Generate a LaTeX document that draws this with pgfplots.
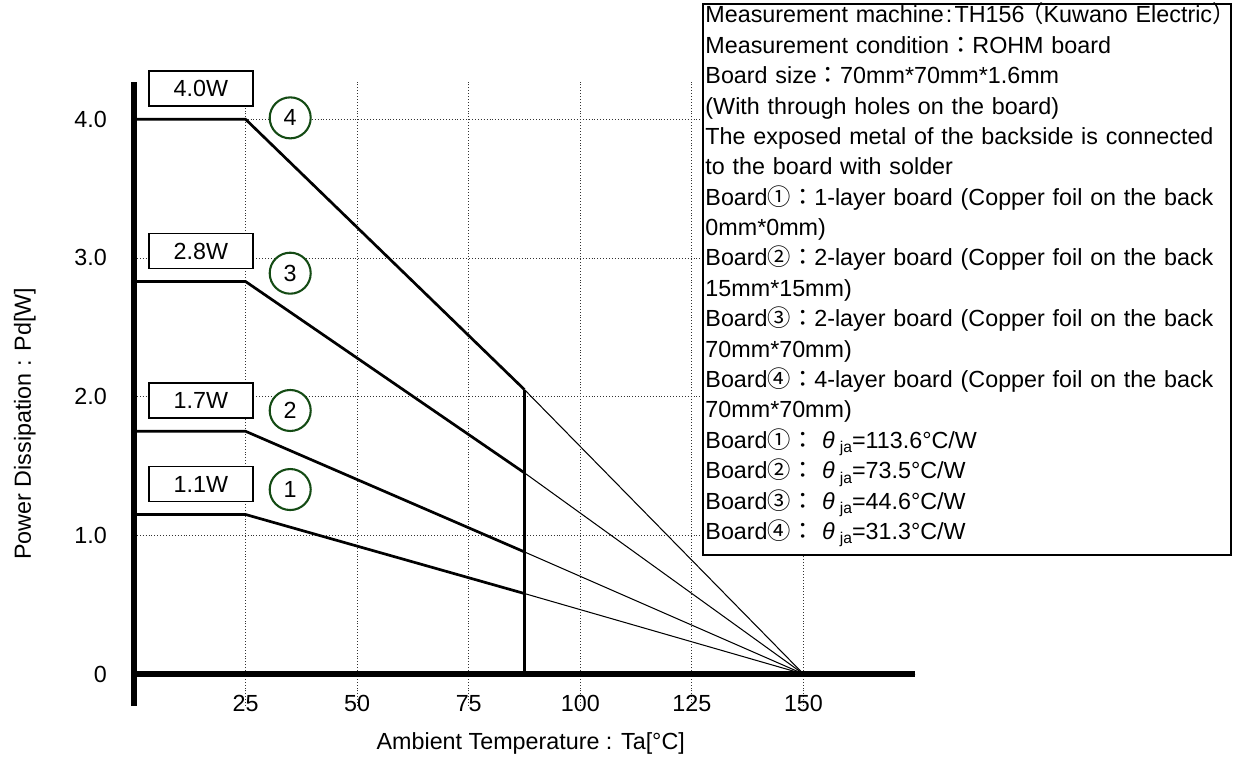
\documentclass[border=0pt]{standalone}
\usepackage{fontspec}
\setmainfont{Liberation Sans}
\newfontfamily\cjk{Noto Sans CJK JP}
\usepackage{pgfplots}
\pgfplotsset{compat=1.18}

\definecolor{circgreen}{RGB}{20,75,20}
\newcommand\fs{\fontsize{11.2pt}{13.4pt}\selectfont}
\newcommand\thja{\textit{θ}\kern2.5pt\raisebox{-0.35ex}{\fontsize{7.5pt}{8pt}\selectfont ja}}

\begin{document}
\begin{tikzpicture}
\useasboundingbox (0,0) rectangle (600pt,363.6pt);
\begin{axis}[
    at={(64.37pt,24.5pt)}, anchor=south west,
    scale only axis, width=375.2pt, height=299.8pt,
    xmin=0, xmax=175, ymin=-0.23, ymax=4.27,
    axis line style={draw=none},
    major tick length=0pt,
    xtick={25,50,75,100,125,150},
    ytick={0,1,2,3,4},
    yticklabels={0,1.0,2.0,3.0,4.0},
    /pgf/number format/assume math mode=true,
    tick label style={font=\fs},
    xticklabel style={yshift=8.5pt},
    yticklabel style={xshift=-9.5pt},
    grid=major,
    grid style={densely dotted, black!80, line width=0.4pt},
    xlabel={Ambient Temperature : Ta[°C]},
    ylabel={Power Dissipation : Pd[W]},
    label style={font=\fs},
    xlabel style={at={(rel axis cs:0.508,-0.0609)}, anchor=center},
    ylabel style={at={(rel axis cs:-0.1396,0.452)}, anchor=center},
    clip=false,
]
% axes
\draw[line width=2.8pt] (axis cs:0,-0.23) -- (axis cs:0,4.27);
\draw[line width=2.6pt] (axis cs:0,0) -- (axis cs:175,0);

% derating curves, thick up to 87.5 C, thin on to 150 C
\addplot[black, line width=1.3pt] coordinates {(0,4.0) (25,4.0) (87.5,2.05)};
\addplot[black, line width=0.5pt] coordinates {(87.5,2.05) (150,0)};
\addplot[black, line width=1.3pt] coordinates {(0,2.83) (25,2.83) (87.5,1.45)};
\addplot[black, line width=0.5pt] coordinates {(87.5,1.45) (150,0)};
\addplot[black, line width=1.3pt] coordinates {(0,1.75) (25,1.75) (87.5,0.88)};
\addplot[black, line width=0.5pt] coordinates {(87.5,0.88) (150,0)};
\addplot[black, line width=1.3pt] coordinates {(0,1.15) (25,1.15) (87.5,0.58)};
\addplot[black, line width=0.5pt] coordinates {(87.5,0.58) (150,0)};
\addplot[black, line width=1pt] coordinates {(87.5,0) (87.5,2.05)};

% value boxes
\tikzset{vbox/.style={draw, fill=white, line width=0.8pt, minimum width=50pt,
    minimum height=16.8pt, inner sep=0pt, font=\fs},
  cnum/.style={circle, draw=circgreen, fill=white, line width=1pt,
    minimum size=19.7pt, inner sep=0pt, font=\fs}}
\node[vbox] at (axis cs:15,4.22) {4.0W};
\node[vbox] at (axis cs:15,3.05) {2.8W};
\node[vbox] at (axis cs:15,1.97) {1.7W};
\node[vbox] at (axis cs:15,1.37) {1.1W};
\node[cnum] at (axis cs:35,4.01) {4};
\node[cnum] at (axis cs:35,2.89) {3};
\node[cnum] at (axis cs:35,1.90) {2};
\node[cnum] at (axis cs:35,1.33) {1};
\end{axis}

% measurement conditions
\draw[fill=white, line width=0.8pt] (337.7pt,97pt) rectangle (591.4pt,361.7pt);
\node[anchor=north west, inner sep=0pt, text width=251.7pt, align=left,
      font=\fontsize{11.2pt}{14.6pt}\selectfont] at (338.7pt,362.4pt) {%
\makebox[\hsize][l]{Measurement machine\kern1pt:\kern1pt TH156\kern-2pt{\cjk （}Kuwano Electric{\cjk ）}}\\
Measurement condition{\cjk ：}ROHM board\\
Board size{\cjk ：}70mm*70mm*1.6mm\\
(With through holes on the board)\\
\makebox[\hsize][s]{The exposed metal of the backside is connected}\\
to the board with solder\\
Board{\cjk ①：}1-layer board (Copper foil on the back\\
0mm*0mm)\\
Board{\cjk ②：}2-layer board (Copper foil on the back\\
15mm*15mm)\\
Board{\cjk ③：}2-layer board (Copper foil on the back\\
70mm*70mm)\\
\makebox[\hsize][s]{Board{\cjk ④：}4-layer board (Copper foil on the back}\\
70mm*70mm)\\
Board{\cjk ①：} \thja=113.6°C/W\\
Board{\cjk ②：} \thja=73.5°C/W\\
Board{\cjk ③：} \thja=44.6°C/W\\
Board{\cjk ④：} \thja=31.3°C/W};
\end{tikzpicture}
\end{document}
